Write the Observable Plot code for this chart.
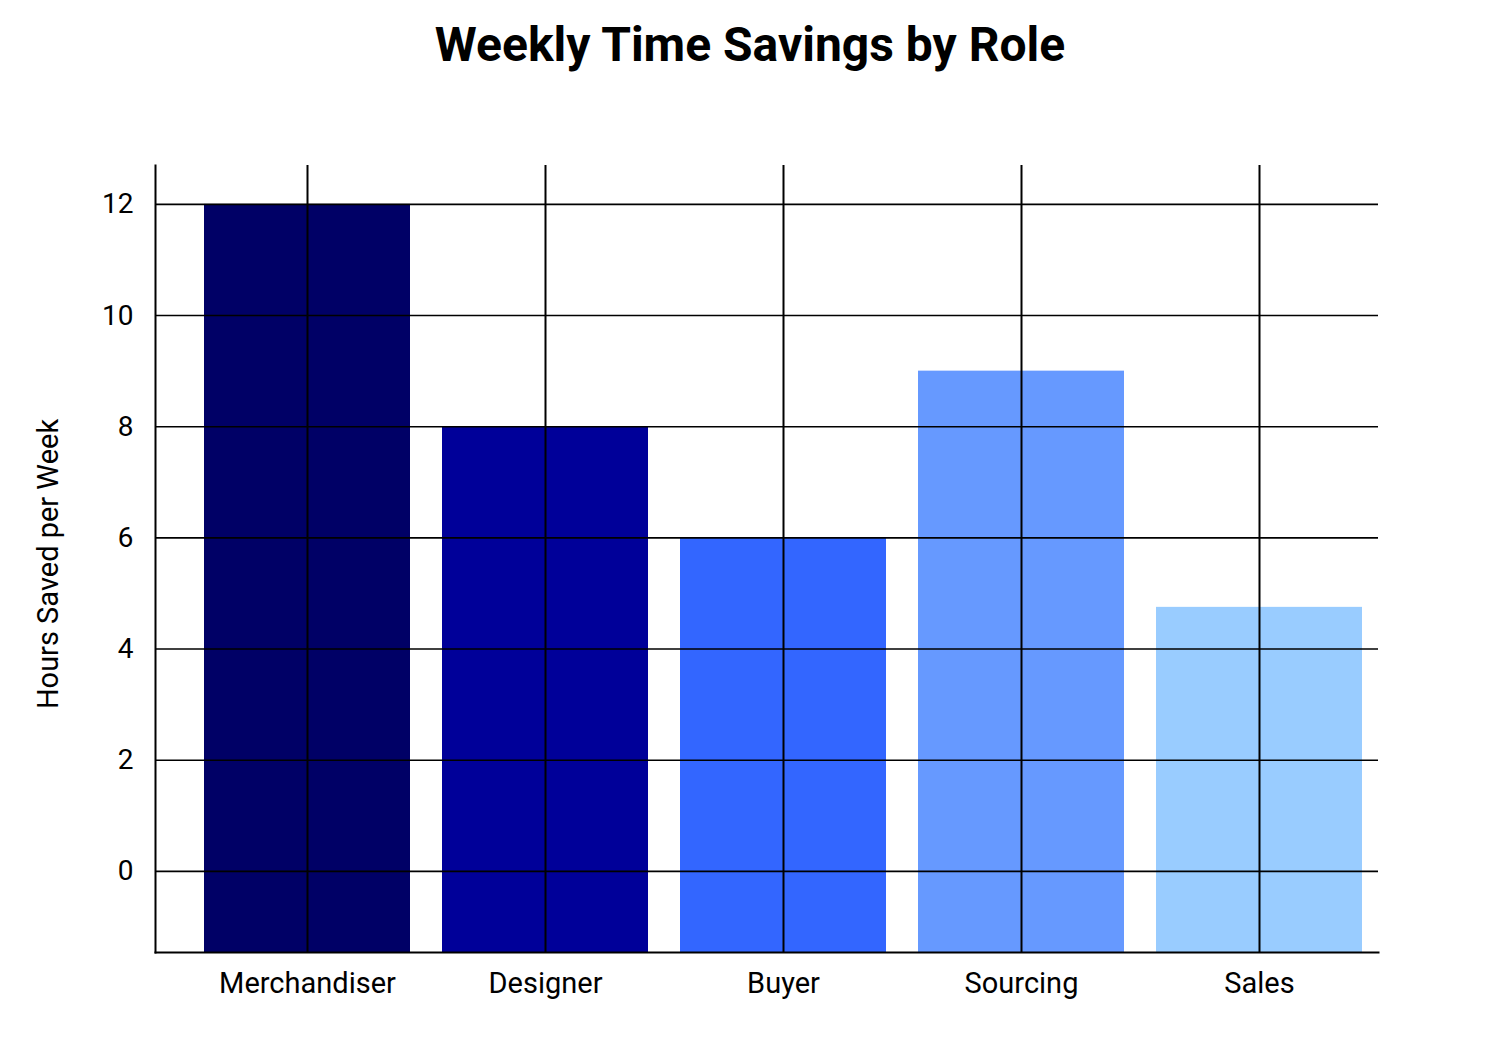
<!DOCTYPE html>
<html>
<head>
<meta charset="utf-8">
<script src="https://cdn.jsdelivr.net/npm/d3@7"></script>
<script src="https://cdn.jsdelivr.net/npm/@observablehq/plot@0.6"></script>
<style>
  html, body { margin: 0; padding: 0; background: #fff; }
  #wrap { position: relative; width: 1500px; height: 1045px; font-family: Roboto, sans-serif; }
  #title { position: absolute; left: 0; width: 1500px; top: 16px; text-align: center;
           font: 700 48px Roboto, sans-serif; color: #000; line-height: 1.2; }
  #chart { position: absolute; left: 0; top: 0; }
</style>
</head>
<body>
<div id="wrap">
  <div id="chart"></div>
  <div id="title">Weekly Time Savings by Role</div>
</div>
<script>
const roles = ["Merchandiser", "Designer", "Buyer", "Sourcing", "Sales"];
const hours = [12, 8, 6, 9, 4.75];
const colors = ["#000066", "#000099", "#3366ff", "#6699ff", "#99ccff"];
const yTicks = [0, 2, 4, 6, 8, 10, 12];
const yDomain = [-1.46, 12.7];

const data = roles.map((r, i) => ({role: r, value: hours[i], color: colors[i]}));

const chart = Plot.plot({
  width: 1500,
  height: 1045,
  marginTop: 165,
  marginBottom: 93,
  marginLeft: 155,
  marginRight: 122,
  style: {fontFamily: "Roboto, sans-serif", fontSize: "29px", color: "#000", background: "#fff"},
  x: {domain: roles, paddingInner: 0.135, paddingOuter: 0.134, align: 0.75, label: null},
  y: {domain: yDomain, ticks: yTicks, label: null},
  marks: [
    Plot.barY(data, {x: "role", y1: yDomain[0], y2: "value", fill: "color", inset: 0}),
    Plot.gridY(yTicks, {stroke: "#000", strokeOpacity: 1, strokeWidth: 1.6}),
    Plot.gridX(roles, {stroke: "#000", strokeOpacity: 1, strokeWidth: 2}),
    Plot.frame({anchor: "left", stroke: "#000", strokeWidth: 2}),
    Plot.frame({anchor: "bottom", stroke: "#000", strokeWidth: 2}),
    Plot.axisY(yTicks, {tickSize: 0, tickPadding: 22, fontSize: 28, tickFormat: "d", label: null}),
    Plot.axisX(roles, {tickSize: 0, tickPadding: 20, fontSize: 29, label: null}),
    Plot.text(["Hours Saved per Week"], {frameAnchor: "left", textAnchor: "middle", dx: -107, dy: 5, rotate: -90, fontSize: 29, fill: "#000"})
  ]
});
document.getElementById("chart").appendChild(chart);
</script>
</body>
</html>
